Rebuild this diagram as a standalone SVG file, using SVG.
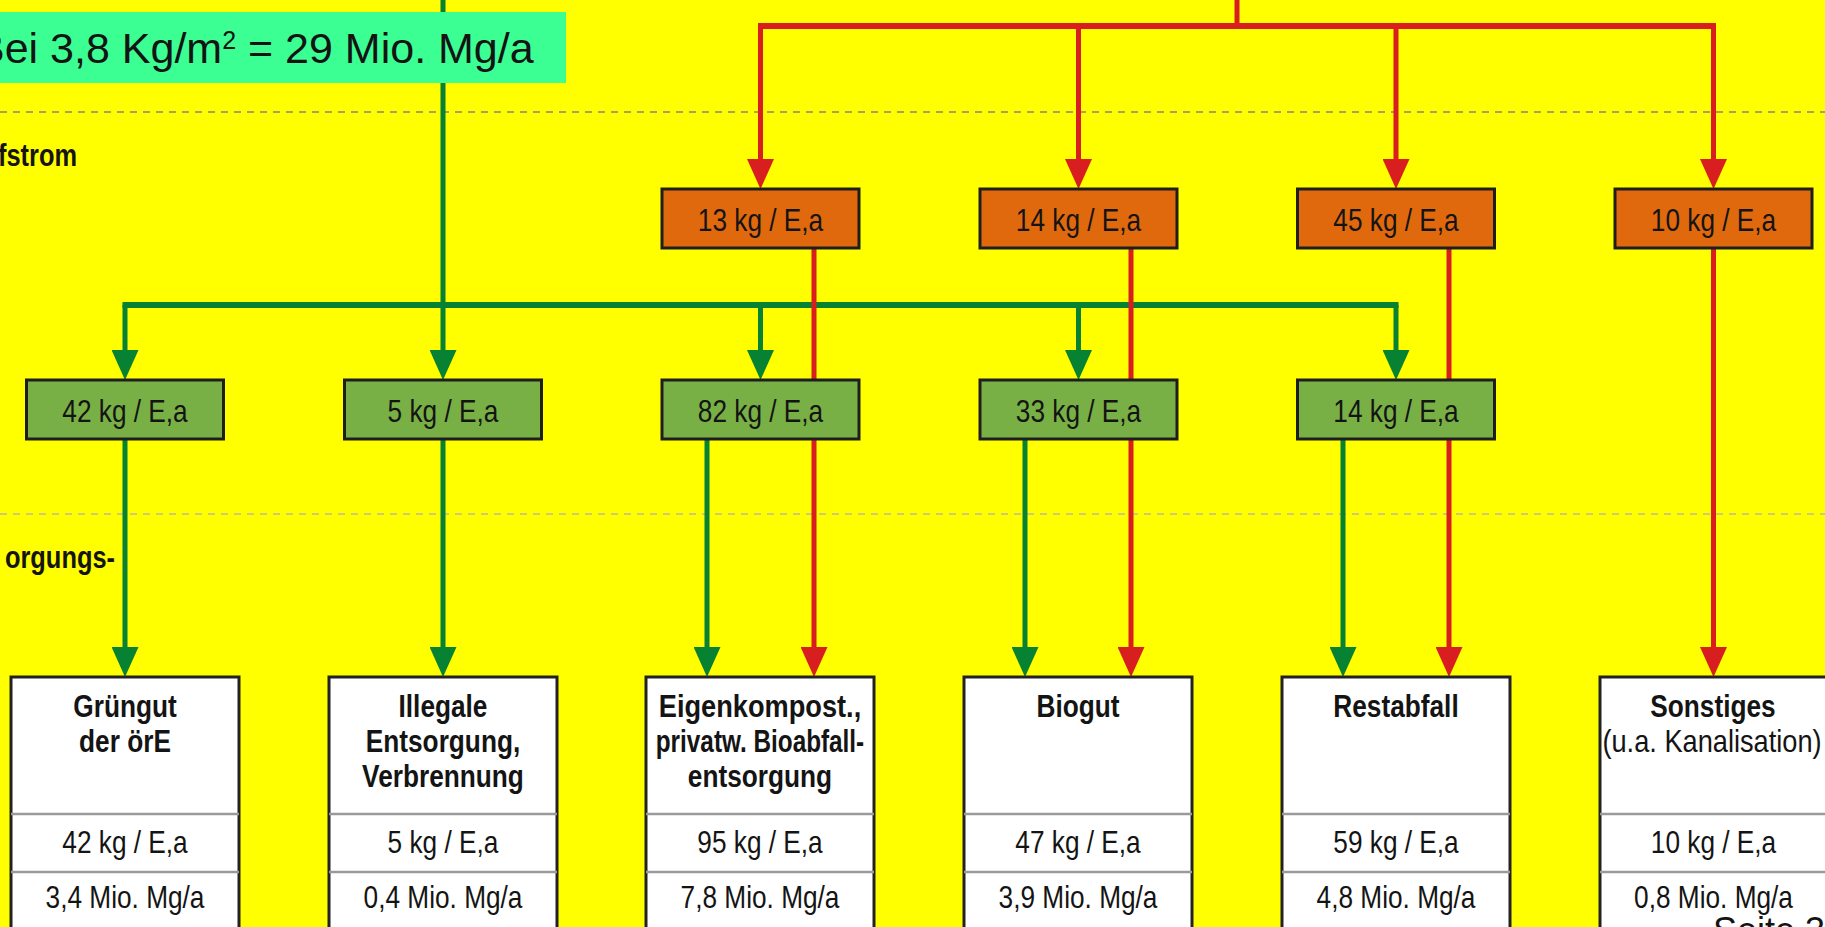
<svg xmlns="http://www.w3.org/2000/svg" width="1825" height="927" viewBox="0 0 1825 927">
<defs>
<style>
.dash{stroke-width:2;stroke-dasharray:7 6;fill:none}
.g{stroke:#078232;fill:none}
.r{stroke:#d81e1e;fill:none}
.h{stroke-width:6}
.v{stroke-width:5}
.ob{fill:#e0690e;stroke:#1e1e1e;stroke-width:3}
.gb{fill:#79b046;stroke:#1e1e1e;stroke-width:3}
.wb{fill:#ffffff;stroke:#222222;stroke-width:3}
.dv{stroke:#9a9a9a;stroke-width:2.5}
text{font-family:"Liberation Sans",Arial,sans-serif;fill:#141414}
.lbl{font-size:32px;text-anchor:middle}
.ttl{font-size:32px;font-weight:bold;text-anchor:middle}
.side{font-size:31px;font-weight:bold;text-anchor:end}
</style>
<marker id="ag" markerUnits="userSpaceOnUse" viewBox="0 0 30 27" refX="0" refY="13.5" markerWidth="30" markerHeight="27" orient="auto"><path d="M0,0 L30,13.5 L0,27 z" fill="#078232"/></marker>
<marker id="ar" markerUnits="userSpaceOnUse" viewBox="0 0 30 27" refX="0" refY="13.5" markerWidth="30" markerHeight="27" orient="auto"><path d="M0,0 L30,13.5 L0,27 z" fill="#d81e1e"/></marker>
</defs>
<rect x="0" y="0" width="1825" height="927" fill="#ffff00"/>
<g id="guides">
<line x1="0" y1="112" x2="1825" y2="112" class="dash" stroke="#a8a060"/>
<line x1="0" y1="514" x2="1825" y2="514" class="dash" stroke="#cfc878"/>
</g>
<g id="side-labels">
<text class="side" transform="translate(77 166) scale(.82 1)">fstrom</text>
<text class="side" transform="translate(115 568) scale(.82 1)">orgungs-</text>
</g>
<g id="connectors">
<line x1="443" y1="0" x2="443" y2="350" class="g v" marker-end="url(#ag)"/>
<line x1="122.5" y1="305" x2="1398.5" y2="305" class="g h"/>
<line x1="125" y1="305" x2="125" y2="350" class="g v" marker-end="url(#ag)"/>
<line x1="760.5" y1="305" x2="760.5" y2="350" class="g v" marker-end="url(#ag)"/>
<line x1="1078.5" y1="305" x2="1078.5" y2="350" class="g v" marker-end="url(#ag)"/>
<line x1="1396" y1="305" x2="1396" y2="350" class="g v" marker-end="url(#ag)"/>
<line x1="125" y1="439" x2="125" y2="647" class="g v" marker-end="url(#ag)"/>
<line x1="443" y1="439" x2="443" y2="647" class="g v" marker-end="url(#ag)"/>
<line x1="707" y1="439" x2="707" y2="647" class="g v" marker-end="url(#ag)"/>
<line x1="1025" y1="439" x2="1025" y2="647" class="g v" marker-end="url(#ag)"/>
<line x1="1343" y1="439" x2="1343" y2="647" class="g v" marker-end="url(#ag)"/>
<line x1="1237" y1="0" x2="1237" y2="26" class="r v"/>
<line x1="758" y1="26" x2="1716" y2="26" class="r h"/>
<line x1="760.5" y1="26" x2="760.5" y2="159" class="r v" marker-end="url(#ar)"/>
<line x1="1078.5" y1="26" x2="1078.5" y2="159" class="r v" marker-end="url(#ar)"/>
<line x1="1396" y1="26" x2="1396" y2="159" class="r v" marker-end="url(#ar)"/>
<line x1="1713.5" y1="26" x2="1713.5" y2="159" class="r v" marker-end="url(#ar)"/>
<line x1="814" y1="248" x2="814" y2="647" class="r v" marker-end="url(#ar)"/>
<line x1="1131" y1="248" x2="1131" y2="647" class="r v" marker-end="url(#ar)"/>
<line x1="1449" y1="248" x2="1449" y2="647" class="r v" marker-end="url(#ar)"/>
<line x1="1713.5" y1="248" x2="1713.5" y2="647" class="r v" marker-end="url(#ar)"/>
</g>
<g id="o1"><rect class="ob" x="662" y="189" width="197" height="59"/><text class="lbl" transform="translate(760.5 231) scale(.82 1)">13 kg / E,a</text></g>
<g id="o2"><rect class="ob" x="980" y="189" width="197" height="59"/><text class="lbl" transform="translate(1078.5 231) scale(.82 1)">14 kg / E,a</text></g>
<g id="o3"><rect class="ob" x="1297.5" y="189" width="197" height="59"/><text class="lbl" transform="translate(1396 231) scale(.82 1)">45 kg / E,a</text></g>
<g id="o4"><rect class="ob" x="1615" y="189" width="197" height="59"/><text class="lbl" transform="translate(1713.5 231) scale(.82 1)">10 kg / E,a</text></g>
<g id="g1"><rect class="gb" x="26.5" y="380" width="197" height="59"/><text class="lbl" transform="translate(125 422) scale(.82 1)">42 kg / E,a</text></g>
<g id="g2"><rect class="gb" x="344.5" y="380" width="197" height="59"/><text class="lbl" transform="translate(443 422) scale(.82 1)">5 kg / E,a</text></g>
<g id="g3"><rect class="gb" x="662" y="380" width="197" height="59"/><text class="lbl" transform="translate(760.5 422) scale(.82 1)">82 kg / E,a</text></g>
<g id="g4"><rect class="gb" x="980" y="380" width="197" height="59"/><text class="lbl" transform="translate(1078.5 422) scale(.82 1)">33 kg / E,a</text></g>
<g id="g5"><rect class="gb" x="1297.5" y="380" width="197" height="59"/><text class="lbl" transform="translate(1396 422) scale(.82 1)">14 kg / E,a</text></g>
<g id="w1"><rect class="wb" x="11" y="677" width="228" height="280"/><line class="dv" x1="11" y1="814" x2="239" y2="814"/><line class="dv" x1="11" y1="872" x2="239" y2="872"/>
<text class="ttl" transform="translate(125 717) scale(.82 1)">Grüngut</text><text class="ttl" transform="translate(125 752) scale(.82 1)">der örE</text>
<text class="lbl" transform="translate(125 853) scale(.82 1)">42 kg / E,a</text><text class="lbl" transform="translate(125 908) scale(.82 1)">3,4 Mio. Mg/a</text></g>
<g id="w2"><rect class="wb" x="329" y="677" width="228" height="280"/><line class="dv" x1="329" y1="814" x2="557" y2="814"/><line class="dv" x1="329" y1="872" x2="557" y2="872"/>
<text class="ttl" transform="translate(443 717) scale(.82 1)">Illegale</text><text class="ttl" transform="translate(443 752) scale(.82 1)">Entsorgung,</text><text class="ttl" transform="translate(443 787) scale(.82 1)">Verbrennung</text>
<text class="lbl" transform="translate(443 853) scale(.82 1)">5 kg / E,a</text><text class="lbl" transform="translate(443 908) scale(.82 1)">0,4 Mio. Mg/a</text></g>
<g id="w3"><rect class="wb" x="646" y="677" width="228" height="280"/><line class="dv" x1="646" y1="814" x2="874" y2="814"/><line class="dv" x1="646" y1="872" x2="874" y2="872"/>
<text class="ttl" transform="translate(760 717) scale(.85 1)">Eigenkompost.,</text><text class="ttl" transform="translate(760 752) scale(.76 1)">privatw. Bioabfall-</text><text class="ttl" transform="translate(760 787) scale(.82 1)">entsorgung</text>
<text class="lbl" transform="translate(760 853) scale(.82 1)">95 kg / E,a</text><text class="lbl" transform="translate(760 908) scale(.82 1)">7,8 Mio. Mg/a</text></g>
<g id="w4"><rect class="wb" x="964" y="677" width="228" height="280"/><line class="dv" x1="964" y1="814" x2="1192" y2="814"/><line class="dv" x1="964" y1="872" x2="1192" y2="872"/>
<text class="ttl" transform="translate(1078 717) scale(.82 1)">Biogut</text>
<text class="lbl" transform="translate(1078 853) scale(.82 1)">47 kg / E,a</text><text class="lbl" transform="translate(1078 908) scale(.82 1)">3,9 Mio. Mg/a</text></g>
<g id="w5"><rect class="wb" x="1282" y="677" width="228" height="280"/><line class="dv" x1="1282" y1="814" x2="1510" y2="814"/><line class="dv" x1="1282" y1="872" x2="1510" y2="872"/>
<text class="ttl" transform="translate(1396 717) scale(.82 1)">Restabfall</text>
<text class="lbl" transform="translate(1396 853) scale(.82 1)">59 kg / E,a</text><text class="lbl" transform="translate(1396 908) scale(.82 1)">4,8 Mio. Mg/a</text></g>
<g id="w6"><rect class="wb" x="1600" y="677" width="228" height="280"/><line class="dv" x1="1600" y1="814" x2="1828" y2="814"/><line class="dv" x1="1600" y1="872" x2="1828" y2="872"/>
<text class="ttl" transform="translate(1713 717) scale(.82 1)">Sonstiges</text><text class="lbl" transform="translate(1712 752) scale(.85 1)">(u.a. Kanalisation)</text>
<text class="lbl" transform="translate(1713.5 853) scale(.82 1)">10 kg / E,a</text><text class="lbl" transform="translate(1713.5 908) scale(.82 1)">0,8 Mio. Mg/a</text></g>
<g id="banner"><rect x="0" y="12" width="566" height="71" fill="#3bff93"/>
<text x="-24" y="63" font-size="43" fill="#000">Bei 3,8 Kg/m<tspan font-size="25" dy="-14">2</tspan><tspan dy="14"> = 29 Mio. Mg/a</tspan></text></g>
<g id="page-number"><text x="1713" y="943" font-size="36" fill="#b0b0b0">Seite 31</text></g>
</svg>
